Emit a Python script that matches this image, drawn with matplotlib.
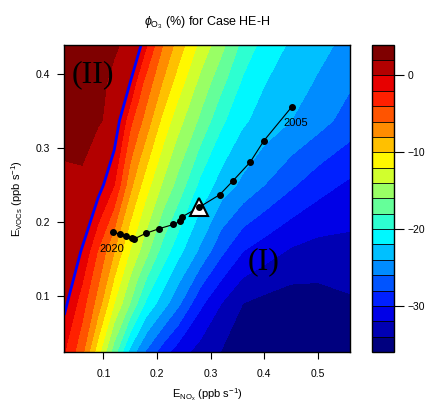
import numpy as np
import matplotlib
matplotlib.use("Agg")
import matplotlib.pyplot as plt
from matplotlib.colors import LinearSegmentedColormap, ListedColormap, BoundaryNorm

plt.rcParams['font.family'] = ['Liberation Sans', 'DejaVu Sans']
plt.rcParams['mathtext.fontset'] = 'custom'
plt.rcParams['mathtext.rm'] = 'Liberation Sans'
plt.rcParams['mathtext.it'] = 'Liberation Sans:italic'

# grid of phi_O3 (%)
e_nox = [0.027, 0.06, 0.09, 0.12, 0.15, 0.165, 0.18, 0.21, 0.24, 0.28, 0.32, 0.36, 0.40, 0.45, 0.50, 0.56]
e_voc = [0.024, 0.09, 0.16, 0.25, 0.337, 0.39, 0.44]
phi = [
    [-1.9, -5.4, -11.2, -17.1, -22.7, -24.6, -26.3, -29.0, -31.1, -32.8, -34.1, -34.8, -35.3, -35.6, -35.6, -35.4],
    [0.6, -3.1, -6.9, -12.0, -16.1, -18.3, -20.4, -23.0, -25.6, -29.5, -32.0, -34.0, -34.6, -35.0, -34.8, -34.3],
    [1.3, -0.1, -4.2, -8.0, -12.2, -13.8, -15.4, -18.8, -21.4, -24.4, -27.6, -30.0, -31.1, -32.3, -32.8, -32.7],
    [1.2, 1.6, 1.0, -2.0, -7.4, -9.4, -11.2, -14.2, -16.8, -20.5, -22.9, -24.5, -26.0, -27.7, -29.2, -30.4],
    [3.3, 2.9, 2.1, 1.7, -3.5, -5.2, -6.9, -10.5, -13.3, -16.4, -19.6, -21.7, -22.8, -24.0, -25.2, -26.9],
    [3.4, 3.1, 2.6, 1.5, 0.05, -2.8, -4.7, -8.0, -11.0, -14.5, -17.4, -20.3, -21.9, -23.1, -24.2, -25.7],
    [3.5, 3.3, 3.0, 2.3, 1.4, 1.0, -1.8, -5.9, -8.9, -12.5, -15.4, -18.6, -20.75, -22.3, -23.4, -24.6],
]
levels = np.arange(-36, 5, 2)

# emission trajectory 2005 -> 2020
years = list(range(2005, 2021))
traj_nox = [0.4515, 0.3993, 0.3737, 0.342, 0.317, 0.2786, 0.2468, 0.243,
            0.2306, 0.204, 0.179, 0.157, 0.153, 0.1418, 0.130, 0.1187]
traj_voc = [0.356, 0.310, 0.281, 0.256, 0.237, 0.220, 0.207, 0.201,
            0.1966, 0.191, 0.1846, 0.177, 0.1786, 0.1813, 0.1836, 0.186]
mark_year = 2010

jet = LinearSegmentedColormap.from_list(
    "jet.colors", ["#00007F", "blue", "#007FFF", "cyan", "#7FFF7F",
                   "yellow", "#FF7F00", "red", "#7F0000"])
cmap = ListedColormap(jet(np.linspace(0, 1, len(levels) - 1)))
norm = BoundaryNorm(levels, cmap.N)

fig = plt.figure(figsize=(4.26, 4.03), dpi=100)
ax = fig.add_axes([0.151, 0.1266, 0.6707, 0.7625])
cax = fig.add_axes([0.8725, 0.1266, 0.0516, 0.7625])

X, Y = np.meshgrid(e_nox, e_voc)
Z = np.array(phi)
cf = ax.contourf(X, Y, Z, levels=levels, cmap=cmap, norm=norm)
ax.contour(X, Y, Z, levels=[0], colors='#0000FF', linewidths=2)

ax.plot(traj_nox, traj_voc, color='black', lw=0.8, marker='o', ms=4, zorder=3)
i = years.index(mark_year)
ax.plot(traj_nox[i], traj_voc[i], marker='^', ms=13, mfc='white', mec='black', mew=1.5, zorder=4)
ax.plot(traj_nox[i], traj_voc[i], marker='o', ms=4, color='black', zorder=5)
ax.text(0.4586, 0.334, "2005", fontsize=8, ha='center', va='center', zorder=6)
ax.text(0.115, 0.163, "2020", fontsize=8, ha='center', va='center', zorder=6)

ax.text(0.080, 0.399, "(II)", fontsize=23, family='Liberation Serif', ha='center', va='center')
ax.text(0.3985, 0.146, "(I)", fontsize=23, family='Liberation Serif', ha='center', va='center')

ax.set_xlim(0.027, 0.56)
ax.set_ylim(0.024, 0.44)
ax.set_xticks([0.1, 0.2, 0.3, 0.4, 0.5])
ax.set_yticks([0.1, 0.2, 0.3, 0.4])
ax.tick_params(direction='out', length=5, width=0.8, labelsize=7.5)
ax.tick_params(axis='x', pad=7)
ax.tick_params(axis='y', pad=5)
for s in ax.spines.values():
    s.set_linewidth(1)
ax.set_xlabel(r'E$_{\mathrm{NO_x}}$ (ppb s$^{-1}$)', fontsize=8, labelpad=5.5)
ax.set_ylabel(r'E$_{\mathrm{VOCs}}$ (ppb s$^{-1}$)', fontsize=8, labelpad=8)
ax.set_title(r'$\phi_{\mathrm{O_3}}$ (%) for Case HE-H', fontsize=9, pad=14)

cb = fig.colorbar(cf, cax=cax, drawedges=True, ticks=[0, -10, -20, -30])
cb.ax.minorticks_off()
cb.outline.set_linewidth(1)
cb.dividers.set_linewidth(0.6)
cb.ax.tick_params(direction='out', length=7, width=0.8, labelsize=7.5, pad=3)

fig.savefig("out.png", dpi=100)
